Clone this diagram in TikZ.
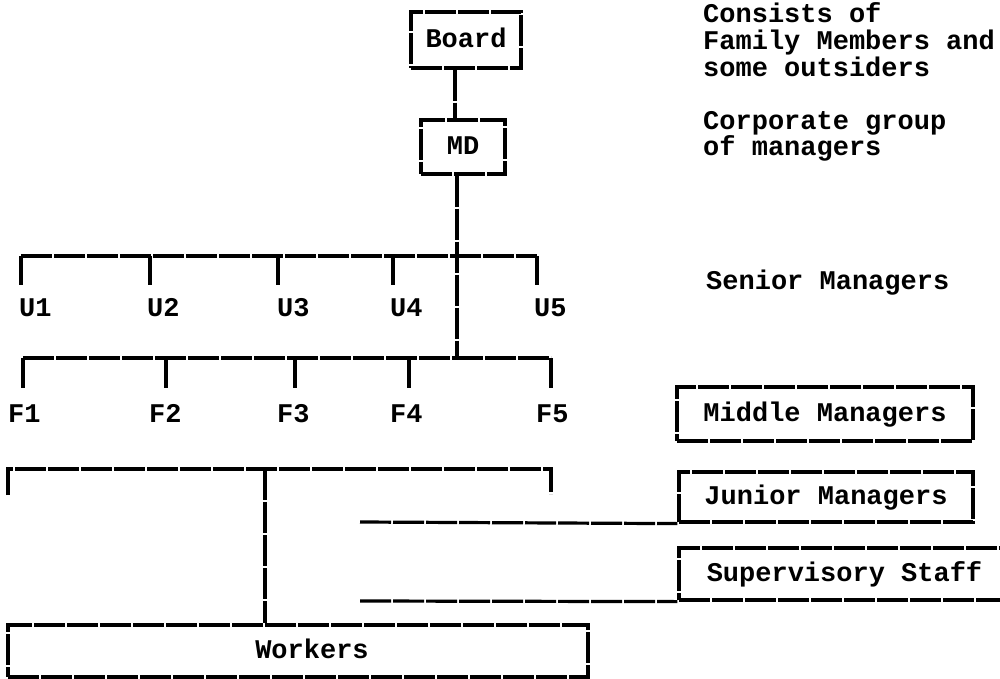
\documentclass[tikz,border=0pt]{standalone}
\usepackage{fontspec}
\usepackage{tikz}
\usetikzlibrary{positioning}
\newfontfamily\typewriter{Liberation Mono}
\newcommand{\tw}{\typewriter\bfseries\fontsize{27}{27}\selectfont}
\tikzset{%
  typed/.style={font=\tw, inner sep=0pt, text height=15.5pt, text depth=0pt},
  note/.style={typed, anchor=west},
  box/.style={rectangle, draw, typed, line width=3.2pt, dash pattern=on 31pt off 2pt},
  line/.style={draw, line width=3.2pt, dash pattern=on 31pt off 2pt}}

\begin{document}
\begin{tikzpicture}[x=1pt, y=-1pt]
    \useasboundingbox (0, 0) rectangle (1000, 679);
    % top of the chart
    \node [box, minimum width=110pt, minimum height=56pt] (board) at (466, 40) {Board};
    \node [box, minimum width=84pt, minimum height=54pt] (md) at (463, 147) {MD};
    \coordinate (fjoin) at (457, 358);
    \draw [line] ([xshift=-11pt]board.south) -- ([xshift=-8pt]md.north);
    \draw [line] ([xshift=-6pt]md.south) -- (fjoin);
    % notes on the right
    \node [note] (n1) at (703, 15) {Consists of};
    \node [note] (n2) at (703, 42) {Family Members and};
    \node [note] (n3) at (703, 69) {some outsiders};
    \node [note] (n4) at (703, 122) {Corporate group};
    \node [note] (n5) at (703, 148) {of managers};
    \node [note] (n6) at (706, 282) {Senior Managers};
    % units and functions
    \foreach \i/\x/\lx in {1/21/19, 2/150/147, 3/278/277, 4/393/390, 5/537/534} {
      \coordinate (ut\i) at (\x, 256);
      \draw [line] (ut\i) -- ++(0, 29);
      \node [note] (u\i) at (\lx, 309) {U\i};
    }
    \draw [line] (ut1) -- (ut5);
    \foreach \i/\x/\lx in {1/23/8, 2/166/149, 3/295/277, 4/409/390, 5/551/536} {
      \coordinate (ft\i) at (\x, 358);
      \draw [line] (ft\i) -- ++(0, 30);
      \node [note] (f\i) at (\lx, 415) {F\i};
    }
    \draw [line] (ft1) -- (ft5);
    % levels on the right
    \node [box, minimum width=296pt, minimum height=54pt] (middle) at (825, 414) {Middle Managers};
    \node [box, minimum width=294pt, minimum height=50pt] (junior) at (826, 497) {Junior Managers};
    \node [box, minimum width=331pt, minimum height=52pt] (super) at (844.5, 574) {Supervisory Staff};
    \coordinate (jend) at (360, 522);
    \coordinate (send) at (360, 601);
    \draw [line] (jend) -- (junior.south west);
    \draw [line] (send) -- (super.south west);
    % workers
    \node [box, minimum width=580pt, minimum height=52pt] (workers) at (298, 651) {\hspace*{28pt}Workers};
    \coordinate (wleft) at (8, 469);
    \coordinate (wright) at (551, 469);
    \coordinate (wjoin) at (265, 469);
    \draw [line] (wleft) ++(0, 26) -- (wleft) -- (wright) -- ++(0, 25);
    \draw [line] (wjoin) -- (wjoin |- workers.north);
\end{tikzpicture}
\end{document}
